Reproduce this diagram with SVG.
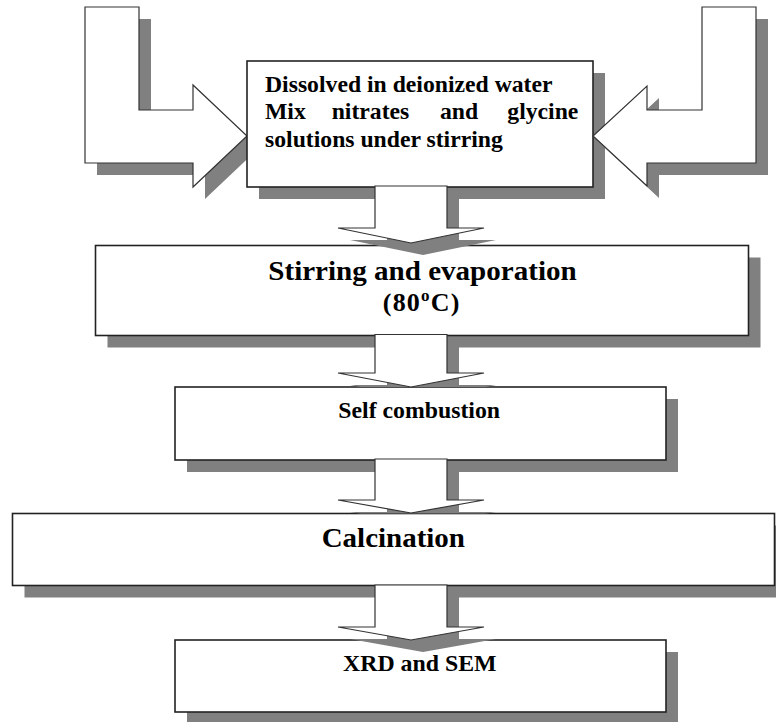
<svg xmlns="http://www.w3.org/2000/svg" width="776" height="722" viewBox="0 0 776 722">
<style>
.bg{fill:#ffffff}
.sh{fill:#808080;stroke:none}
.box{fill:#ffffff;stroke:#222222;stroke-width:1.6}
.arr{fill:#ffffff;stroke:#333333;stroke-width:1.2;stroke-linejoin:miter}
.t{font-weight:bold;fill:#000000}
</style>
<defs>
<clipPath id="c1"><rect x="0" y="0" width="776" height="245.5"/></clipPath>
<clipPath id="c2"><rect x="0" y="0" width="776" height="387"/></clipPath>
<clipPath id="c3"><rect x="0" y="0" width="776" height="513.5"/></clipPath>
</defs>
<rect class="bg" x="0" y="0" width="776" height="722"/>

<g id="input-left">
<polygon class="sh" transform="translate(12,12)" points="85,7 139,7 139,110 193,110 193,85 247,136 193,187 193,163 85,163"/>
<polygon class="arr" points="85,7 139,7 139,110 193,110 193,85 247,136 193,187 193,163 85,163"/>
</g>

<g id="mix" font-family="'Liberation Serif', 'Times New Roman', 'DejaVu Serif', serif">
<rect class="sh" x="259" y="73" width="346" height="126"/>
<rect class="box" x="247" y="61" width="346" height="126"/>
<text class="t" font-size="23.7" x="265" y="91.7">Dissolved in deionized water</text>
<text class="t" font-size="23.7" y="118.5"><tspan x="265">Mix</tspan><tspan x="331.7">nitrates</tspan><tspan x="440">and</tspan><tspan x="507.3">glycine</tspan></text>
<text class="t" font-size="23.7" x="265" y="146.5">solutions under stirring</text>
</g>

<g id="input-right">
<polygon class="sh" transform="translate(12,12)" points="756,7 702,7 702,110 647,110 647,86 593,136 647,186 647,163 756,163"/>
<polygon class="arr" points="756,7 702,7 702,110 647,110 647,86 593,136 647,186 647,163 756,163"/>
</g>

<g id="stirring" font-family="'Liberation Serif', 'Times New Roman', 'DejaVu Serif', serif">
<rect class="sh" x="107.5" y="257.5" width="653" height="90"/>
<rect class="box" x="95.5" y="245.5" width="653" height="90"/>
<text class="t" font-size="27" x="268.3" y="280" textLength="308.4" lengthAdjust="spacingAndGlyphs">Stirring and evaporation</text>
<text class="t" font-size="26" x="421.7" y="311" text-anchor="middle" letter-spacing="1.2">(80<tspan font-size="17" dy="-10">o</tspan><tspan dy="10">C)</tspan></text>
</g>

<g id="self-combustion" font-family="'Liberation Serif', 'Times New Roman', 'DejaVu Serif', serif">
<rect class="sh" x="187" y="399" width="491" height="73"/>
<rect class="box" x="175" y="387" width="491" height="73"/>
<text class="t" font-size="24" x="338.3" y="417.7" textLength="161.7" lengthAdjust="spacingAndGlyphs">Self combustion</text>
</g>

<g id="calcination" font-family="'Liberation Serif', 'Times New Roman', 'DejaVu Serif', serif">
<rect class="sh" x="24.5" y="525.5" width="762" height="72"/>
<rect class="box" x="12.5" y="513.5" width="762" height="72"/>
<text class="t" font-size="28" x="321.7" y="546.7" textLength="143.3" lengthAdjust="spacingAndGlyphs">Calcination</text>
</g>

<g id="xrd-sem" font-family="'Liberation Serif', 'Times New Roman', 'DejaVu Serif', serif">
<rect class="sh" x="187" y="652" width="491" height="72"/>
<rect class="box" x="175" y="640" width="491" height="72"/>
<text class="t" font-size="24" x="343" y="670.7" textLength="153.5" lengthAdjust="spacingAndGlyphs">XRD and SEM</text>
</g>

<g id="connectors">
<path class="sh" clip-path="url(#c1)" transform="translate(12,12)" d="M375,186 L447,186 L447,228 L484,228 L411,243 L338,228 L375,228 Z"/>
<path class="arr" d="M375,186 L447,186 L447,228 L484,228 L411,243 L338,228 L375,228 Z"/>
<path class="sh" clip-path="url(#c2)" d="M387,346.5 L459,346.5 L459,385 L496,385 L423,399 L350,385 L387,385 Z"/>
<path class="arr" d="M375,334.5 L447,334.5 L447,373 L484,373 L411,387 L338,373 L375,373 Z"/>
<path class="sh" clip-path="url(#c3)" d="M387,471 L459,471 L459,512 L496,512 L423,525 L350,512 L387,512 Z"/>
<path class="arr" d="M375,459 L447,459 L447,500 L484,500 L411,513 L338,500 L375,500 Z"/>
<path class="sh" transform="translate(12,12)" d="M375,585 L447,585 L447,627 L484,627 L411,640 L338,627 L375,627 Z"/>
<path class="arr" d="M375,585 L447,585 L447,627 L484,627 L411,640 L338,627 L375,627 Z"/>
</g>
</svg>
